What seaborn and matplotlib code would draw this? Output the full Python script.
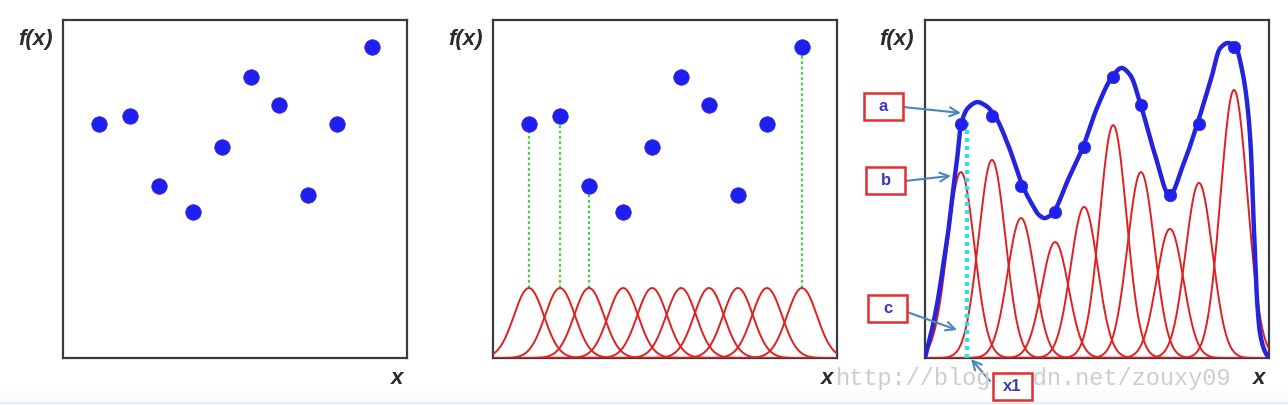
import numpy as np
import pandas as pd
import matplotlib
matplotlib.use("Agg")
import matplotlib.pyplot as plt
from matplotlib.patches import Rectangle
from matplotlib.lines import Line2D
import seaborn as sns

# ---------------- data ----------------
x_pts = [1.20, 2.24, 3.21, 4.35, 5.32, 6.29, 7.22, 8.19, 9.16, 10.33]
y_pts = [6.92, 7.16, 5.09, 4.32, 6.24, 8.31, 7.49, 4.82, 6.92, 9.20]

# panel 2: equal-height basis functions
basis_height_p2 = [2.07] * 10
green_idx = [0, 1, 2, 9]

# panel 3: weighted basis functions
basis_height_p3 = [5.50, 5.86, 4.14, 3.43, 4.47, 6.89, 5.50, 3.82, 5.18, 7.93]

# panel 3: blue fitted curve
curve_x = [0.00, 0.23, 0.43, 0.60, 0.77, 0.94, 1.07, 1.20, 1.44, 1.74, 2.04, 2.34,
           2.78, 3.28, 3.61, 3.80, 3.98, 4.15, 4.30, 4.78, 5.28, 5.75, 6.25, 6.56,
           6.86, 7.22, 7.69, 8.16, 8.63, 9.10, 9.57, 9.87, 10.13, 10.40, 10.60,
           10.77, 10.90, 10.97, 11.04, 11.10, 11.20, 11.37, 11.50]
curve_y = [0.00, 0.83, 1.72, 2.69, 3.70, 4.97, 5.86, 6.89, 7.40, 7.57, 7.46, 7.16,
           6.30, 5.06, 4.50, 4.24, 4.14, 4.19, 4.32, 5.27, 6.24, 7.40, 8.31, 8.58,
           8.37, 7.46, 6.01, 4.82, 5.71, 6.92, 8.28, 9.17, 9.32, 9.17, 8.52,
           7.54, 6.07, 4.38, 2.90, 1.72, 0.74, 0.18, 0.00]

x1_pos = 1.40
x1_top = 7.10

tip_a = (1.20, 7.25)
tip_b = (0.87, 5.39)
tip_c = (1.07, 0.83)
tip_x1 = (1.54, -0.03)

XMAX, YMAX = 11.5, 10.0
SIG2, SIG3 = 0.50, 0.45

# ---------------- helpers ----------------
def pchip(xk, yk, xq):
    xk = np.asarray(xk, float); yk = np.asarray(yk, float)
    h = np.diff(xk); delta = np.diff(yk) / h
    n = len(xk); d = np.zeros(n)
    for k in range(1, n - 1):
        if delta[k - 1] * delta[k] > 0:
            w1 = 2 * h[k] + h[k - 1]; w2 = h[k] + 2 * h[k - 1]
            d[k] = (w1 + w2) / (w1 / delta[k - 1] + w2 / delta[k])
        else:
            d[k] = (yk[k + 1] - yk[k - 1]) / (xk[k + 1] - xk[k - 1])
    d[0] = delta[0]; d[-1] = delta[-1]
    i = np.clip(np.searchsorted(xk, xq) - 1, 0, n - 2)
    t = (xq - xk[i]) / h[i]
    h00 = 2 * t**3 - 3 * t**2 + 1; h10 = t**3 - 2 * t**2 + t
    h01 = -2 * t**3 + 3 * t**2; h11 = t**3 - t**2
    return h00 * yk[i] + h10 * h[i] * d[i] + h01 * yk[i + 1] + h11 * h[i] * d[i + 1]

grid = np.linspace(0, XMAX, 900)

def basis_frame(centers, heights, sig):
    rows = []
    for k, (c, hgt) in enumerate(zip(centers, heights)):
        rows.append(pd.DataFrame({"x": grid, "y": hgt * np.exp(-0.5 * ((grid - c) / sig) ** 2), "b": k}))
    return pd.concat(rows, ignore_index=True)

# ---------------- figure ----------------
sns.set_theme(style="white")
plt.rcParams["font.family"] = ["Liberation Sans", "DejaVu Sans"]

W, H = 1288, 405
fig = plt.figure(figsize=(W / 100, H / 100), dpi=100)
fig.patch.set_facecolor("white")

def fx(px): return px / W
def fy(py): return 1 - py / H

lefts = [63, 493, 925]
axes = []
for L in lefts:
    ax = fig.add_axes([fx(L), fy(358), 344 / W, 338 / H])
    ax.set_xlim(0, XMAX); ax.set_ylim(0, YMAX)
    ax.set_xticks([]); ax.set_yticks([])
    for s in ax.spines.values():
        s.set_color("#3a3a3a"); s.set_linewidth(1.6); s.set_visible(True)
    axes.append(ax)
ax1, ax2, ax3 = axes

pts = pd.DataFrame({"x": x_pts, "y": y_pts})
dot_color = "#1f1ff0"
red = "#e02020"

# panel 1
sns.scatterplot(data=pts, x="x", y="y", ax=ax1, s=125, color=dot_color,
                edgecolor="#2a2ad0", linewidth=0.5, zorder=5)

# panel 2
b2 = basis_frame(x_pts, basis_height_p2, SIG2)
sns.lineplot(data=b2, x="x", y="y", units="b", estimator=None, ax=ax2,
             color=red, lw=1.4, zorder=3)
for i in green_idx:
    ax2.plot([x_pts[i], x_pts[i]], [basis_height_p2[i], y_pts[i]], ls=(0, (1.2, 1.2)),
             color="#44d444", lw=1.6, zorder=2)
sns.scatterplot(data=pts, x="x", y="y", ax=ax2, s=125, color=dot_color,
                edgecolor="#2a2ad0", linewidth=0.5, zorder=5)

# panel 3
b3 = basis_frame(x_pts, basis_height_p3, SIG3)
sns.lineplot(data=b3, x="x", y="y", units="b", estimator=None, ax=ax3,
             color=red, lw=1.4, zorder=3)
cv = pd.DataFrame({"x": grid, "y": pchip(curve_x, curve_y, grid)})
sns.lineplot(data=cv, x="x", y="y", ax=ax3, color="#2424dc", lw=3.2, zorder=4,
             estimator=None, sort=False)
ax3.plot([x1_pos, x1_pos], [0, x1_top], ls=(0, (0.9, 0.9)), color="#35dede",
         lw=3.2, zorder=4.5)
sns.scatterplot(data=pts, x="x", y="y", ax=ax3, s=80, color=dot_color,
                edgecolor="#2a2ad0", linewidth=0.5, zorder=6)
for ax in axes:
    ax.set_xlabel(""); ax.set_ylabel("")
    ax.set_xlim(0, XMAX); ax.set_ylim(0, YMAX)
    leg = ax.get_legend()
    if leg: leg.remove()

# axis labels
lab = dict(fontsize=16, fontweight="bold", fontstyle="italic", color="#2b2b2b",
           ha="center", va="center", zorder=6)
for cx in [35, 465, 896]:
    fig.text(fx(cx), fy(40), "f(x)", **lab)
for cx in [397, 827, 1259]:
    fig.text(fx(cx), fy(378), "x", **lab)

# watermark
fig.text(fx(836), fy(378), "http://blog.csdn.net/zouxy09", fontsize=17.0,
         family=["Liberation Mono", "DejaVu Sans Mono"], color="#cdcdcd",
         ha="left", va="center", zorder=1)

# labelled boxes with arrows
arrow_col = "#4a86c0"
boxes = [("a", 864, 93, tip_a, (903, 107)),
         ("b", 866, 167, tip_b, (905, 181)),
         ("c", 868, 295, tip_c, (907, 312)),
         ("x1", 993, 373, tip_x1, (990, 381))]
for txt, bx, by, tip, start in boxes:
    bw, bh = 39, 27
    fig.add_artist(Rectangle((fx(bx), fy(by + bh)), bw / W, bh / H,
                             transform=fig.transFigure, facecolor="white",
                             edgecolor="#e03030", lw=1.8, zorder=8))
    fig.text(fx(bx + bw / 2), fy(by + bh / 2), txt, fontsize=12, fontweight="bold",
             color="#3838b8", ha="center", va="center", zorder=9)
    ax3.annotate("", xy=tip, xycoords="data",
                 xytext=(fx(start[0]), fy(start[1])), textcoords="figure fraction",
                 arrowprops=dict(arrowstyle="->", color=arrow_col, lw=1.5,
                                 mutation_scale=16, shrinkA=0, shrinkB=0),
                 annotation_clip=False, zorder=7)

# faint bottom strip
fig.add_artist(Rectangle((0, 0), 1, fy(391), transform=fig.transFigure,
                         facecolor="#fafdfd", edgecolor="none", zorder=0))
fig.add_artist(Line2D([0, 1], [fy(403), fy(403)], transform=fig.transFigure,
                      color="#e2eef2", lw=1.5, zorder=0.5))

fig.savefig("out.png", dpi=100, facecolor="white")
